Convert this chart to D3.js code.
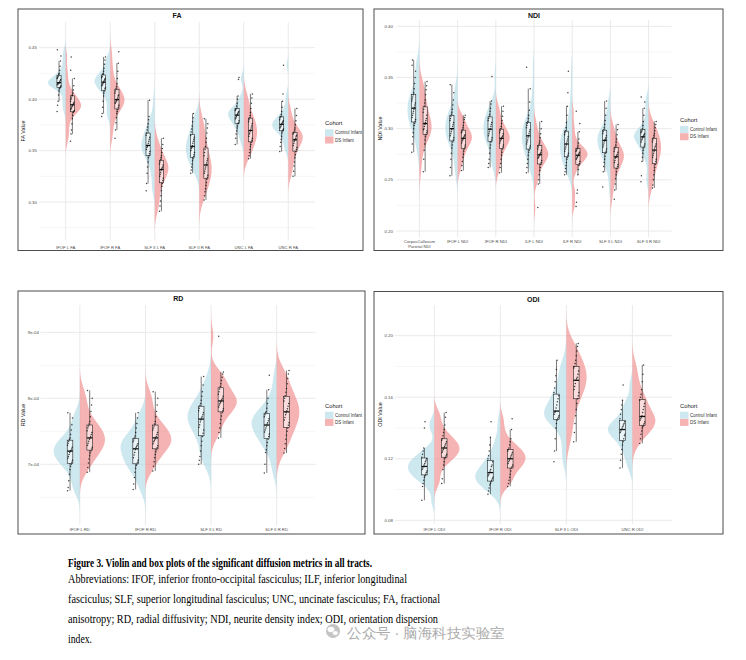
<!DOCTYPE html>
<meta charset="utf-8">
<style>
    body { margin: 0; background: #fff; }
    svg text { font-family: "Liberation Sans", Arial, sans-serif; }
    .caption text { font-family: "Liberation Serif", "Times New Roman", serif; fill: #000; }
</style>
<body>
<script src="https://d3js.org/d3.v7.min.js"></script>
<script>
// ---- data ----
var cohorts = ["Control Infant", "DS Infant"];

var faTracts = ["IFOF L FA", "IFOF R FA", "SLF II L FA", "SLF II R FA", "UNC L FA", "UNC R FA"];
var faTicks = [0.30, 0.35, 0.40, 0.45];
var faControl = [
    [0.388, 0.394, 0.398, 0.404, 0.408, 0.410, 0.411, 0.412, 0.413, 0.414, 0.415, 0.415, 0.416, 0.416, 0.417, 0.418, 0.419, 0.420, 0.421, 0.422, 0.424, 0.425, 0.428, 0.432, 0.437, 0.442, 0.448],
    [0.383, 0.386, 0.392, 0.398, 0.403, 0.406, 0.408, 0.410, 0.411, 0.413, 0.414, 0.415, 0.416, 0.417, 0.418, 0.419, 0.420, 0.421, 0.422, 0.424, 0.425, 0.427, 0.430, 0.434, 0.438, 0.441],
    [0.311, 0.318, 0.328, 0.334, 0.339, 0.343, 0.345, 0.347, 0.349, 0.351, 0.353, 0.354, 0.355, 0.357, 0.359, 0.361, 0.363, 0.365, 0.367, 0.370, 0.373, 0.376, 0.380, 0.383, 0.399],
    [0.328, 0.331, 0.334, 0.337, 0.340, 0.342, 0.344, 0.346, 0.348, 0.350, 0.352, 0.353, 0.355, 0.357, 0.359, 0.361, 0.363, 0.365, 0.368, 0.371, 0.374, 0.378, 0.382, 0.386],
    [0.356, 0.362, 0.366, 0.369, 0.372, 0.374, 0.376, 0.377, 0.379, 0.381, 0.382, 0.383, 0.384, 0.385, 0.386, 0.387, 0.388, 0.389, 0.390, 0.391, 0.393, 0.396, 0.400, 0.403, 0.419, 0.421],
    [0.349, 0.354, 0.358, 0.361, 0.364, 0.367, 0.369, 0.370, 0.371, 0.372, 0.373, 0.374, 0.375, 0.376, 0.377, 0.378, 0.379, 0.380, 0.382, 0.383, 0.385, 0.388, 0.392, 0.398, 0.405, 0.433]
];
var faDS = [
    [0.359, 0.366, 0.370, 0.376, 0.381, 0.384, 0.387, 0.388, 0.389, 0.390, 0.391, 0.392, 0.393, 0.394, 0.395, 0.396, 0.397, 0.398, 0.400, 0.401, 0.403, 0.404, 0.406, 0.409, 0.413, 0.420, 0.428, 0.441],
    [0.362, 0.370, 0.377, 0.382, 0.386, 0.388, 0.390, 0.392, 0.394, 0.396, 0.397, 0.398, 0.399, 0.400, 0.401, 0.403, 0.404, 0.406, 0.408, 0.410, 0.412, 0.415, 0.420, 0.427, 0.435, 0.446],
    [0.291, 0.296, 0.301, 0.306, 0.311, 0.315, 0.318, 0.321, 0.323, 0.325, 0.327, 0.329, 0.331, 0.332, 0.333, 0.334, 0.336, 0.337, 0.339, 0.341, 0.343, 0.345, 0.348, 0.352, 0.356, 0.362],
    [0.302, 0.306, 0.310, 0.313, 0.316, 0.319, 0.322, 0.324, 0.326, 0.328, 0.330, 0.332, 0.334, 0.336, 0.338, 0.340, 0.342, 0.345, 0.348, 0.351, 0.354, 0.358, 0.362, 0.367, 0.372, 0.376, 0.381],
    [0.342, 0.345, 0.348, 0.351, 0.354, 0.356, 0.358, 0.360, 0.362, 0.364, 0.366, 0.367, 0.369, 0.370, 0.372, 0.374, 0.376, 0.378, 0.380, 0.382, 0.384, 0.387, 0.391, 0.396, 0.401, 0.405],
    [0.325, 0.330, 0.335, 0.339, 0.343, 0.346, 0.349, 0.351, 0.353, 0.355, 0.357, 0.359, 0.360, 0.361, 0.362, 0.364, 0.365, 0.366, 0.367, 0.368, 0.370, 0.372, 0.375, 0.379, 0.384, 0.391]
];

var ndiTracts = ["CorpusCallosum\nParietal NDI", "IFOF L NDI", "IFOF R NDI", "ILF L NDI", "ILF R NDI", "SLF II L NDI", "SLF II R NDI"];
var ndiTicks = [0.20, 0.25, 0.30, 0.35, 0.40];
var ndiControl = [
    [0.277, 0.285, 0.292, 0.296, 0.300, 0.303, 0.305, 0.307, 0.309, 0.311, 0.313, 0.315, 0.317, 0.319, 0.321, 0.323, 0.325, 0.327, 0.329, 0.331, 0.333, 0.335, 0.339, 0.344, 0.350, 0.356, 0.362, 0.367],
    [0.254, 0.262, 0.270, 0.276, 0.281, 0.284, 0.287, 0.289, 0.291, 0.293, 0.295, 0.297, 0.299, 0.300, 0.302, 0.304, 0.306, 0.308, 0.310, 0.312, 0.314, 0.316, 0.319, 0.323, 0.328, 0.335, 0.343],
    [0.262, 0.266, 0.270, 0.276, 0.281, 0.284, 0.287, 0.289, 0.291, 0.293, 0.295, 0.297, 0.299, 0.300, 0.302, 0.304, 0.306, 0.308, 0.310, 0.312, 0.314, 0.317, 0.320, 0.324, 0.327, 0.351],
    [0.257, 0.262, 0.266, 0.270, 0.274, 0.277, 0.279, 0.281, 0.283, 0.285, 0.287, 0.289, 0.291, 0.293, 0.295, 0.297, 0.299, 0.301, 0.303, 0.305, 0.307, 0.310, 0.313, 0.318, 0.326, 0.339, 0.360],
    [0.255, 0.258, 0.261, 0.264, 0.267, 0.270, 0.272, 0.274, 0.276, 0.278, 0.280, 0.282, 0.284, 0.286, 0.288, 0.290, 0.292, 0.294, 0.296, 0.298, 0.301, 0.306, 0.313, 0.322, 0.335, 0.356],
    [0.243, 0.258, 0.263, 0.267, 0.270, 0.273, 0.276, 0.278, 0.280, 0.282, 0.284, 0.286, 0.288, 0.289, 0.290, 0.291, 0.293, 0.295, 0.297, 0.299, 0.301, 0.304, 0.308, 0.313, 0.320, 0.327],
    [0.248, 0.254, 0.268, 0.272, 0.276, 0.279, 0.281, 0.283, 0.285, 0.287, 0.289, 0.290, 0.291, 0.292, 0.293, 0.294, 0.295, 0.296, 0.297, 0.298, 0.300, 0.303, 0.307, 0.313, 0.320, 0.326, 0.331]
];
var ndiDS = [
    [0.258, 0.270, 0.279, 0.285, 0.289, 0.292, 0.294, 0.296, 0.298, 0.299, 0.300, 0.302, 0.304, 0.306, 0.308, 0.310, 0.313, 0.316, 0.319, 0.322, 0.325, 0.328, 0.333, 0.338, 0.342, 0.346],
    [0.259, 0.264, 0.268, 0.272, 0.275, 0.278, 0.280, 0.282, 0.284, 0.286, 0.288, 0.289, 0.290, 0.291, 0.292, 0.293, 0.294, 0.296, 0.297, 0.299, 0.301, 0.303, 0.306, 0.309, 0.311, 0.313],
    [0.257, 0.262, 0.266, 0.270, 0.274, 0.277, 0.280, 0.282, 0.284, 0.286, 0.288, 0.289, 0.290, 0.291, 0.292, 0.293, 0.295, 0.296, 0.298, 0.300, 0.302, 0.305, 0.308, 0.312, 0.317, 0.322],
    [0.223, 0.246, 0.250, 0.255, 0.259, 0.262, 0.265, 0.267, 0.269, 0.271, 0.272, 0.273, 0.274, 0.275, 0.276, 0.277, 0.279, 0.280, 0.282, 0.284, 0.286, 0.288, 0.291, 0.295, 0.300, 0.307],
    [0.224, 0.228, 0.237, 0.240, 0.255, 0.260, 0.264, 0.266, 0.268, 0.270, 0.271, 0.272, 0.273, 0.274, 0.275, 0.276, 0.277, 0.278, 0.279, 0.280, 0.281, 0.283, 0.286, 0.290, 0.297, 0.305, 0.317],
    [0.231, 0.240, 0.246, 0.251, 0.255, 0.258, 0.261, 0.263, 0.265, 0.267, 0.269, 0.271, 0.272, 0.273, 0.274, 0.275, 0.277, 0.278, 0.280, 0.282, 0.284, 0.287, 0.290, 0.294, 0.299, 0.304],
    [0.242, 0.245, 0.250, 0.255, 0.259, 0.262, 0.265, 0.268, 0.270, 0.272, 0.274, 0.276, 0.278, 0.280, 0.282, 0.283, 0.285, 0.287, 0.289, 0.291, 0.293, 0.295, 0.298, 0.301, 0.304, 0.307]
];

var rdTracts = ["IFOF L RD", "IFOF R RD", "SLF II L RD", "SLF II R RD"];
var rdTicks = [7e-4, 8e-4, 9e-4];
var rdControl = [
    [6.60e-4, 6.65e-4, 6.75e-4, 6.85e-4, 6.92e-4, 6.97e-4, 7.00e-4, 7.03e-4, 7.06e-4, 7.09e-4, 7.12e-4, 7.15e-4, 7.18e-4, 7.20e-4, 7.21e-4, 7.23e-4, 7.26e-4, 7.29e-4, 7.32e-4, 7.35e-4, 7.38e-4, 7.40e-4, 7.45e-4, 7.52e-4, 7.60e-4, 7.70e-4, 7.78e-4],
    [6.62e-4, 6.70e-4, 6.80e-4, 6.88e-4, 6.94e-4, 6.98e-4, 7.00e-4, 7.03e-4, 7.06e-4, 7.10e-4, 7.14e-4, 7.18e-4, 7.22e-4, 7.25e-4, 7.27e-4, 7.29e-4, 7.31e-4, 7.34e-4, 7.37e-4, 7.40e-4, 7.43e-4, 7.48e-4, 7.55e-4, 7.62e-4, 7.70e-4, 7.78e-4],
    [7.00e-4, 7.06e-4, 7.12e-4, 7.20e-4, 7.28e-4, 7.35e-4, 7.42e-4, 7.47e-4, 7.52e-4, 7.56e-4, 7.60e-4, 7.64e-4, 7.67e-4, 7.70e-4, 7.72e-4, 7.75e-4, 7.78e-4, 7.81e-4, 7.85e-4, 7.89e-4, 7.92e-4, 7.97e-4, 8.03e-4, 8.10e-4, 8.20e-4, 8.33e-4],
    [6.87e-4, 7.00e-4, 7.18e-4, 7.22e-4, 7.28e-4, 7.33e-4, 7.38e-4, 7.42e-4, 7.46e-4, 7.49e-4, 7.52e-4, 7.55e-4, 7.58e-4, 7.61e-4, 7.63e-4, 7.66e-4, 7.69e-4, 7.72e-4, 7.75e-4, 7.78e-4, 7.80e-4, 7.85e-4, 7.92e-4, 8.00e-4, 8.13e-4, 8.35e-4]
];
var rdDS = [
    [6.88e-4, 6.95e-4, 7.02e-4, 7.08e-4, 7.13e-4, 7.17e-4, 7.20e-4, 7.23e-4, 7.26e-4, 7.29e-4, 7.32e-4, 7.35e-4, 7.38e-4, 7.40e-4, 7.42e-4, 7.45e-4, 7.48e-4, 7.51e-4, 7.55e-4, 7.58e-4, 7.61e-4, 7.65e-4, 7.72e-4, 7.80e-4, 7.90e-4, 8.00e-4, 8.12e-4],
    [6.90e-4, 6.97e-4, 7.04e-4, 7.10e-4, 7.15e-4, 7.19e-4, 7.22e-4, 7.25e-4, 7.28e-4, 7.31e-4, 7.34e-4, 7.36e-4, 7.38e-4, 7.40e-4, 7.42e-4, 7.45e-4, 7.48e-4, 7.52e-4, 7.55e-4, 7.58e-4, 7.61e-4, 7.65e-4, 7.72e-4, 7.80e-4, 7.90e-4, 8.00e-4, 8.10e-4],
    [7.40e-4, 7.48e-4, 7.55e-4, 7.62e-4, 7.68e-4, 7.73e-4, 7.78e-4, 7.81e-4, 7.84e-4, 7.87e-4, 7.90e-4, 7.92e-4, 7.94e-4, 7.96e-4, 7.98e-4, 8.00e-4, 8.03e-4, 8.06e-4, 8.10e-4, 8.14e-4, 8.18e-4, 8.22e-4, 8.27e-4, 8.32e-4, 8.37e-4, 8.40e-4, 8.94e-4],
    [7.17e-4, 7.24e-4, 7.31e-4, 7.38e-4, 7.44e-4, 7.50e-4, 7.55e-4, 7.59e-4, 7.63e-4, 7.67e-4, 7.71e-4, 7.75e-4, 7.78e-4, 7.81e-4, 7.84e-4, 7.88e-4, 7.92e-4, 7.96e-4, 8.00e-4, 8.04e-4, 8.09e-4, 8.15e-4, 8.22e-4, 8.30e-4, 8.37e-4, 8.42e-4]
];

var odiTracts = ["IFOF L ODI", "IFOF R ODI", "SLF II L ODI", "UNC R ODI"];
var odiTicks = [0.08, 0.12, 0.16, 0.20];
var odiControl = [
    [0.093, 0.102, 0.104, 0.106, 0.108, 0.109, 0.110, 0.111, 0.112, 0.113, 0.114, 0.115, 0.116, 0.117, 0.118, 0.119, 0.120, 0.121, 0.123, 0.125, 0.127, 0.140, 0.144],
    [0.097, 0.099, 0.101, 0.103, 0.104, 0.105, 0.106, 0.107, 0.108, 0.109, 0.110, 0.111, 0.112, 0.113, 0.115, 0.116, 0.118, 0.120, 0.122, 0.125, 0.129, 0.134, 0.144],
    [0.118, 0.125, 0.133, 0.140, 0.143, 0.145, 0.146, 0.147, 0.148, 0.149, 0.150, 0.151, 0.153, 0.155, 0.157, 0.159, 0.161, 0.163, 0.166, 0.170, 0.174, 0.178, 0.184],
    [0.114, 0.119, 0.123, 0.126, 0.129, 0.131, 0.133, 0.135, 0.136, 0.137, 0.138, 0.139, 0.140, 0.141, 0.142, 0.143, 0.144, 0.146, 0.149, 0.152, 0.155, 0.158, 0.168]
];
var odiDS = [
    [0.104, 0.107, 0.113, 0.116, 0.118, 0.120, 0.121, 0.122, 0.123, 0.124, 0.125, 0.126, 0.127, 0.128, 0.129, 0.130, 0.131, 0.132, 0.133, 0.135, 0.137, 0.139, 0.142, 0.147, 0.150],
    [0.102, 0.104, 0.106, 0.108, 0.110, 0.112, 0.114, 0.115, 0.116, 0.117, 0.118, 0.119, 0.120, 0.121, 0.122, 0.123, 0.124, 0.125, 0.126, 0.127, 0.129, 0.131, 0.133, 0.139, 0.146],
    [0.131, 0.137, 0.143, 0.148, 0.152, 0.156, 0.159, 0.161, 0.163, 0.165, 0.167, 0.169, 0.171, 0.172, 0.173, 0.175, 0.177, 0.179, 0.180, 0.182, 0.184, 0.187, 0.190, 0.193, 0.195],
    [0.130, 0.133, 0.136, 0.138, 0.140, 0.141, 0.142, 0.143, 0.144, 0.145, 0.146, 0.147, 0.148, 0.150, 0.152, 0.154, 0.156, 0.158, 0.160, 0.162, 0.165, 0.170, 0.175, 0.181]
];

var captionLines = [
    "Figure 3. Violin and box plots of the significant diffusion metrics in all tracts.",
    "Abbreviations: IFOF, inferior fronto-occipital fasciculus; ILF, inferior longitudinal",
    "fasciculus; SLF, superior longitudinal fasciculus; UNC, uncinate fasciculus; FA, fractional",
    "anisotropy; RD, radial diffusivity; NDI, neurite density index; ODI, orientation dispersion",
    "index."
];
var watermark = "公众号 · 脑海科技实验室";

// ---- layout ----
var fill = { "Control Infant": "#ADD8E6", "DS Infant": "#F08080" };
var twoDec = d3.format(".2f");
var sci = function(v) { return d3.format(".0e")(v).replace(/e([+-])(\d)$/, "e$10$2"); };

var panels = [
    { title: "FA", yTitle: "FA Value", tracts: faTracts, control: faControl, ds: faDS, ticks: faTicks, fmt: twoDec,
      frame: [18, 9, 363, 250.5], plot: [39, 22, 315, 240], yDom: [0.30, 0.45], yRng: [202, 47.7],
      titleY: 17.5, tickX: 37, yTitleX: 23, xLabY: 248.5, legend: [325, 129.3] },
    { title: "NDI", yTitle: "NDI Value", tracts: ndiTracts, control: ndiControl, ds: ndiDS, ticks: ndiTicks, fmt: twoDec,
      frame: [374, 9, 723, 250.5], plot: [396.5, 20, 671.5, 237], yDom: [0.20, 0.40], yRng: [231, 26.3],
      titleY: 17.5, tickX: 393, yTitleX: 380, xLabY: 243.3, legend: [680, 126] },
    { title: "RD", yTitle: "RD Value", tracts: rdTracts, control: rdControl, ds: rdDS, ticks: rdTicks, fmt: sci,
      frame: [18, 291, 365, 534], plot: [40.5, 305, 316, 525], yDom: [7e-4, 9e-4], yRng: [464.3, 332.3],
      titleY: 301, tickX: 39, yTitleX: 23, xLabY: 530.8, legend: [325, 411.7] },
    { title: "ODI", yTitle: "ODI Value", tracts: odiTracts, control: odiControl, ds: odiDS, ticks: odiTicks, fmt: twoDec,
      frame: [374, 291.5, 723, 534], plot: [394.7, 305, 672, 524], yDom: [0.08, 0.20], yRng: [520.3, 335.7],
      titleY: 301.5, tickX: 393, yTitleX: 380, xLabY: 530.8, legend: [680, 411.7] }
];

var svg = d3.select("body").append("svg").attr("width", 746).attr("height", 660);

function kde(vals) {
    var s = vals.slice().sort(d3.ascending), n = s.length;
    var iqr = d3.quantileSorted(s, 0.75) - d3.quantileSorted(s, 0.25);
    var bw = 0.9 * Math.min(d3.deviation(s), iqr / 1.34) * Math.pow(n, -0.2);
    var lo = s[0] - 3 * bw, hi = s[n - 1] + 3 * bw, m = 150;
    return d3.range(m + 1).map(function(k) {
        var v = lo + (hi - lo) * k / m;
        var d = d3.sum(s, function(u) { var z = (v - u) / bw; return Math.exp(-0.5 * z * z); });
        return [v, d / (n * bw * Math.sqrt(2 * Math.PI))];
    });
}

function boxStats(vals) {
    var s = vals.slice().sort(d3.ascending);
    var q1 = d3.quantileSorted(s, 0.25), med = d3.quantileSorted(s, 0.5), q3 = d3.quantileSorted(s, 0.75);
    var r = 1.5 * (q3 - q1);
    return { q1: q1, med: med, q3: q3,
             lo: d3.min(s.filter(function(v) { return v >= q1 - r; })),
             hi: d3.max(s.filter(function(v) { return v <= q3 + r; })) };
}

function drawPanel(p, pi) {
    var g = svg.append("g");
    var y = d3.scaleLinear().domain(p.yDom).range(p.yRng);
    var x = d3.scalePoint().domain(p.tracts).range([p.plot[0], p.plot[2]]).padding(0.6);
    var step = x.step(), top = p.plot[1], bottom = p.plot[3];

    g.append("rect")
        .attr("x", p.frame[0]).attr("y", p.frame[1])
        .attr("width", p.frame[2] - p.frame[0]).attr("height", p.frame[3] - p.frame[1])
        .attr("fill", "none").attr("stroke", "#4d4d4d").attr("stroke-width", 1);

    // grid
    var tStep = p.ticks[1] - p.ticks[0];
    var minor = d3.range(-2, p.ticks.length + 2).map(function(k) { return p.ticks[0] + (k + 0.5) * tStep; })
        .filter(function(v) { return y(v) >= top && y(v) <= bottom; });
    g.selectAll(".minor").data(minor).enter().append("line")
        .attr("x1", p.plot[0]).attr("x2", p.plot[2])
        .attr("y1", function(d) { return y(d); }).attr("y2", function(d) { return y(d); })
        .attr("stroke", "#f0f0f0").attr("stroke-width", 0.6);
    g.selectAll(".major").data(p.ticks).enter().append("line")
        .attr("x1", p.plot[0]).attr("x2", p.plot[2])
        .attr("y1", function(d) { return y(d); }).attr("y2", function(d) { return y(d); })
        .attr("stroke", "#e8e8e8").attr("stroke-width", 0.9);
    g.selectAll(".vgrid").data(p.tracts).enter().append("line")
        .attr("x1", function(d) { return x(d); }).attr("x2", function(d) { return x(d); })
        .attr("y1", top).attr("y2", bottom)
        .attr("stroke", "#e8e8e8").attr("stroke-width", 0.9);

    var clipId = "clip" + pi;
    g.append("clipPath").attr("id", clipId).append("rect")
        .attr("x", p.plot[0] - 30).attr("y", top).attr("width", p.plot[2] - p.plot[0] + 60).attr("height", bottom - top);

    var groups = [];
    p.tracts.forEach(function(t, i) {
        groups.push({ tract: t, cohort: cohorts[0], side: -1, vals: p.control[i] });
        groups.push({ tract: t, cohort: cohorts[1], side: 1, vals: p.ds[i] });
    });
    groups.forEach(function(gr) {
        gr.dens = kde(gr.vals);
        gr.peak = d3.max(gr.dens, function(d) { return d[1]; });
        gr.box = boxStats(gr.vals);
    });
    var maxD = d3.max(groups, function(gr) { return gr.peak; });
    var halfW = 0.40 * step;

    var vg = g.append("g").attr("clip-path", "url(#" + clipId + ")");
    groups.forEach(function(gr) {
        var cx = x(gr.tract);
        // blend of area-scaled and width-scaled violins
        var k = halfW * (0.5 / maxD + 0.5 / gr.peak);
        var area = d3.area().curve(d3.curveBasis)
            .y(function(d) { return y(d[0]); })
            .x0(cx)
            .x1(function(d) { return cx + gr.side * d[1] * k; });
        vg.append("path").datum(gr.dens).attr("d", area)
            .attr("fill", fill[gr.cohort]).attr("fill-opacity", 0.6);
    });

    var bw = Math.max(4.2, 0.085 * step);
    groups.forEach(function(gr) {
        var bx = x(gr.tract) + gr.side * 0.15 * step, b = gr.box;
        var bg = g.append("g");
        bg.append("line").attr("x1", bx).attr("x2", bx).attr("y1", y(b.hi)).attr("y2", y(b.q3))
            .attr("stroke", "#222").attr("stroke-width", 0.6);
        bg.append("line").attr("x1", bx).attr("x2", bx).attr("y1", y(b.q1)).attr("y2", y(b.lo))
            .attr("stroke", "#222").attr("stroke-width", 0.6);
        bg.append("rect").attr("x", bx - bw / 2).attr("width", bw)
            .attr("y", y(b.q3)).attr("height", y(b.q1) - y(b.q3))
            .attr("fill", "#fff").attr("fill-opacity", 0.55)
            .attr("stroke", "#222").attr("stroke-width", 0.6);
        bg.selectAll("circle").data(gr.vals).enter().append("circle")
            .attr("cx", function(d, i) { return bx + (((i * 53) % 17) / 16 - 0.5) * bw * 0.9; })
            .attr("cy", function(d) { return y(d); })
            .attr("r", 0.75).attr("fill", "#111").attr("fill-opacity", 0.8);
        bg.append("line").attr("x1", bx - bw / 2).attr("x2", bx + bw / 2)
            .attr("y1", y(b.med)).attr("y2", y(b.med))
            .attr("stroke", "#111").attr("stroke-width", 1.3);
    });

    // axes text
    g.selectAll(".ytick").data(p.ticks).enter().append("text")
        .attr("x", p.tickX).attr("y", function(d) { return y(d); }).attr("dy", "0.35em")
        .attr("text-anchor", "end").attr("font-size", 4.4).attr("fill", "#4d4d4d")
        .text(p.fmt);
    var xl = g.selectAll(".xtick").data(p.tracts).enter().append("text")
        .attr("text-anchor", "middle").attr("font-size", 4.2).attr("fill", "#4d4d4d");
    xl.each(function(t) {
        var el = d3.select(this);
        t.split("\n").forEach(function(line, k) {
            el.append("tspan").attr("x", x(t)).attr("y", p.xLabY + k * 5).text(line);
        });
    });
    g.append("text")
        .attr("transform", "translate(" + p.yTitleX + "," + ((top + bottom) / 2) + ") rotate(-90)")
        .attr("dy", "0.35em").attr("text-anchor", "middle").attr("font-size", 5.4).attr("fill", "#111")
        .text(p.yTitle);
    g.append("text")
        .attr("x", (p.plot[0] + p.plot[2]) / 2).attr("y", p.titleY)
        .attr("text-anchor", "middle").attr("font-size", 7).attr("font-weight", "bold").attr("fill", "#111")
        .text(p.title);

    // legend
    var lx = p.legend[0], ly = p.legend[1];
    g.append("text").attr("x", lx).attr("y", ly - 4).attr("font-size", 5.8).attr("fill", "#222").text("Cohort");
    cohorts.forEach(function(c, k) {
        g.append("rect").attr("x", lx).attr("y", ly + k * 7.2).attr("width", 8.5).attr("height", 7)
            .attr("fill", fill[c]).attr("fill-opacity", 0.6);
        g.append("text").attr("x", lx + 10).attr("y", ly + k * 7.2 + 3.5).attr("dy", "0.35em")
            .attr("font-size", 4.5).attr("fill", "#333").text(c);
    });
}

panels.forEach(drawPanel);

// caption
var cap = svg.append("g").attr("class", "caption");
var capPos = [[566.5, 304, true], [582.5, 339, false], [602.5, 372, false], [622.5, 370, false], [642.5, 24, false]];
captionLines.forEach(function(t, i) {
    cap.append("text").attr("x", 68).attr("y", capPos[i][0])
        .attr("font-size", 13.5).attr("font-weight", capPos[i][2] ? "bold" : "normal")
        .attr("textLength", capPos[i][1]).attr("lengthAdjust", "spacingAndGlyphs")
        .text(t);
});

// watermark
var wm = svg.append("g");
wm.append("circle").attr("cx", 333).attr("cy", 631).attr("r", 7).attr("fill", "#c4c4c4");
wm.append("ellipse").attr("cx", 331).attr("cy", 629.5).attr("rx", 3.4).attr("ry", 2.8).attr("fill", "#fff");
wm.append("ellipse").attr("cx", 335.3).attr("cy", 633).attr("rx", 2.8).attr("ry", 2.3).attr("fill", "#fff").attr("stroke", "#c4c4c4").attr("stroke-width", 0.6);
wm.append("text").attr("x", 347).attr("y", 637.5).attr("font-size", 14)
    .attr("font-family", "'Noto Sans CJK SC', sans-serif").attr("fill", "#ababab")
    .attr("textLength", 158).attr("lengthAdjust", "spacingAndGlyphs")
    .text(watermark);
</script>
</body>
</html>
